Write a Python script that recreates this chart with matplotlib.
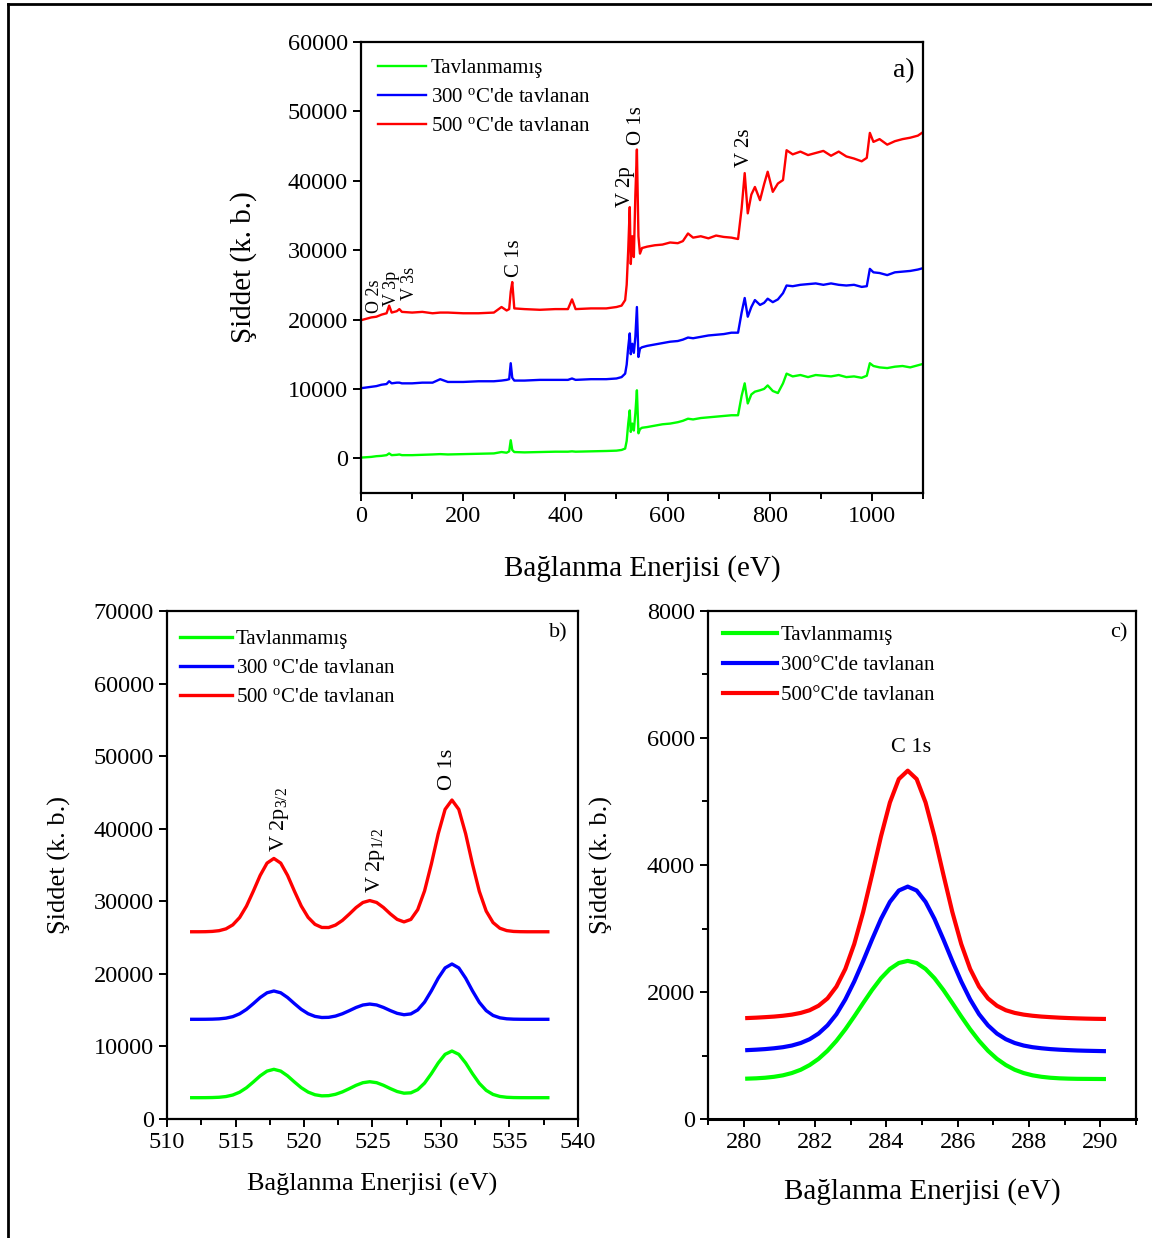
"""XPS spectra of the V-oxide films: survey scan (a), V 2p / O 1s region (b)
and C 1s region (c) for the as-grown and annealed samples."""

import matplotlib

matplotlib.use("Agg")
import matplotlib.pyplot as plt
from matplotlib.lines import Line2D
from matplotlib.ticker import MultipleLocator

plt.rcParams["font.family"] = ["Liberation Serif", "DejaVu Serif"]
plt.rcParams["mathtext.fontset"] = "custom"
plt.rcParams["mathtext.rm"] = "Liberation Serif"
plt.rcParams["mathtext.it"] = "Liberation Serif:italic"

GREEN, BLUE, RED = "#00ff00", "#0000ff", "#ff0000"

# ---- (a) survey spectrum -------------------------------------------------
survey_ev = [
    0, 10, 20, 30, 40, 50, 55, 60, 70, 75, 80, 100, 120, 140, 155, 170, 200,
    230, 260, 275, 285, 290, 293, 296, 300, 320, 350, 380, 405, 413, 420, 450,
    480, 500, 510, 517, 520, 523, 526, 528, 531, 534, 537, 540, 543, 546, 550,
    560, 575, 590, 605, 620, 630, 640, 650, 665, 680, 695, 710, 725, 738, 745,
    751, 757, 764, 771, 781, 789, 796, 806, 816, 826, 833, 845, 860, 875, 890,
    905, 920, 935, 950, 965, 980, 990, 996, 1003, 1015, 1030, 1045, 1060,
    1075, 1090, 1100,
]
survey_raw = [
    100, 150, 200, 300, 350, 450, 700, 450, 500, 550, 450, 450, 500, 550, 600,
    550, 600, 650, 700, 900, 800, 1000, 2600, 1200, 900, 850, 900, 950, 950,
    1000, 950, 1000, 1050, 1100, 1200, 1400, 2500, 5000, 6900, 3800, 5000,
    4000, 6500, 9800, 3600, 4200, 4400, 4500, 4700, 4900, 5000, 5200, 5400,
    5700, 5600, 5800, 5900, 6000, 6100, 6200, 6200, 9000, 10800, 7900, 9200,
    9600, 9800, 10000, 10500, 9700, 9400, 10800, 12200, 11800, 12000, 11700,
    12000, 11900, 11800, 12000, 11700, 11800, 11600, 11900, 13700, 13300,
    13100, 13000, 13200, 13300, 13100, 13400, 13600,
]
survey_300 = [
    10100, 10200, 10300, 10400, 10600, 10700, 11100, 10800, 10900, 10900,
    10800, 10800, 10900, 10900, 11400, 11000, 11000, 11100, 11100, 11200,
    11300, 11400, 13700, 11600, 11200, 11200, 11300, 11300, 11300, 11500,
    11300, 11400, 11400, 11500, 11700, 12200, 13500, 16000, 18000, 15000,
    16500, 15200, 17500, 21800, 14600, 15800, 16000, 16200, 16400, 16600,
    16800, 16900, 17100, 17400, 17300, 17500, 17700, 17800, 17900, 18100,
    18100, 21000, 23100, 20400, 21800, 22800, 22100, 22400, 23000, 22500,
    22900, 23800, 24900, 24800, 25000, 25100, 25200, 25000, 25200, 25000,
    24900, 25000, 24700, 24800, 27300, 26800, 26700, 26400, 26800, 26900,
    27000, 27200, 27400,
]
survey_500 = [
    19900, 20100, 20300, 20400, 20700, 20900, 22000, 21000, 21200, 21500,
    21100, 21000, 21100, 20900, 21000, 21000, 20900, 20900, 21000, 21800,
    21300, 21500, 24000, 25400, 21600, 21500, 21400, 21500, 21500, 22900,
    21500, 21600, 21600, 21800, 22000, 22800, 25000, 30000, 36200, 28000,
    32000, 29000, 38000, 44500, 32000, 29500, 30300, 30500, 30700, 30800,
    31100, 31000, 31300, 32400, 31800, 32000, 31700, 32100, 31900, 31800,
    31600, 36000, 41100, 35300, 38000, 39100, 37200, 39500, 41300, 38400,
    39600, 40100, 44400, 43800, 44200, 43700, 44000, 44300, 43600, 44200,
    43500, 43200, 42800, 43300, 46900, 45600, 46000, 45200, 45700, 46000,
    46200, 46500, 47000,
]
survey_peaks = ["O 2s", "V 3p", "V 3s", "C 1s", "V 2p", "O 1s", "V 2s"]
survey_peak_ev = [26, 60, 94, 300, 518, 540, 750]
survey_peak_top = [21000, 21900, 22800, 26100, 36200, 45200, 42000]
survey_peak_size = [13, 13, 13, 15, 15, 15, 15]

# ---- (b) V 2p / O 1s region ----------------------------------------------
v2p_ev = [
    511.8, 512.3, 512.8, 513.3, 513.8, 514.3, 514.8, 515.3, 515.8, 516.3,
    516.8, 517.3, 517.8, 518.3, 518.8, 519.3, 519.8, 520.3, 520.8, 521.3,
    521.8, 522.3, 522.8, 523.3, 523.8, 524.3, 524.8, 525.3, 525.8, 526.3,
    526.8, 527.3, 527.8, 528.3, 528.8, 529.3, 529.8, 530.3, 530.8, 531.3,
    531.8, 532.3, 532.8, 533.3, 533.8, 534.3, 534.8, 535.3, 535.8, 536.3,
    536.8, 537.3, 537.8,
]
v2p_raw = [
    2940, 2940, 2945, 2960, 2999, 3097, 3308, 3699, 4309, 5106, 5947, 6602,
    6850, 6602, 5947, 5106, 4313, 3712, 3345, 3194, 3221, 3406, 3737, 4179,
    4645, 5004, 5140, 5008, 4649, 4195, 3789, 3559, 3611, 4047, 4945, 6258,
    7728, 8913, 9370, 8913, 7724, 6245, 4908, 3950, 3389, 3112, 2997, 2956,
    2944, 2940, 2940, 2940, 2940,
]
v2p_300 = [
    13740, 13740, 13745, 13760, 13800, 13900, 14107, 14497, 15105, 15901,
    16739, 17392, 17640, 17392, 16739, 15901, 15109, 14509, 14142, 13988,
    14010, 14185, 14501, 14922, 15368, 15710, 15840, 15715, 15373, 14941,
    14563, 14369, 14483, 15028, 16107, 17669, 19413, 20819, 21360, 20819,
    19409, 17657, 16072, 14936, 14272, 13943, 13807, 13759, 13745, 13740,
    13740, 13740, 13740,
]
v2p_500 = [
    25800, 25800, 25810, 25850, 25950, 26200, 26750, 27760, 29335, 31395,
    33567, 35259, 35900, 35259, 33567, 31397, 29342, 27784, 26824, 26394,
    26385, 26722, 27362, 28224, 29133, 29833, 30100, 29835, 29144, 28266,
    27508, 27158, 27500, 28839, 31427, 35154, 39311, 42663, 43950, 42661,
    39304, 35129, 31354, 28650, 27067, 26285, 25960, 25845, 25811, 25800,
    25800, 25800, 25800,
]
v2p_labels = [r"V 2p$_{3/2}$", r"V 2p$_{1/2}$", "O 1s"]
v2p_label_ev = [518.2, 525.2, 530.5]
v2p_label_top = [36800, 31150, 45300]

# ---- (c) C 1s region ------------------------------------------------------
c1s_ev = [
    280.10, 280.35, 280.60, 280.85, 281.10, 281.35, 281.60, 281.85, 282.10,
    282.35, 282.60, 282.85, 283.10, 283.35, 283.60, 283.85, 284.10, 284.35,
    284.60, 284.85, 285.10, 285.35, 285.60, 285.85, 286.10, 286.35, 286.60,
    286.85, 287.10, 287.35, 287.60, 287.85, 288.10, 288.35, 288.60, 288.85,
    289.10, 289.35, 289.60, 289.85, 290.10,
]
c1s_raw = [
    636, 641, 650, 665, 688, 724, 776, 850, 948, 1075, 1231, 1413, 1615, 1826,
    2032, 2217, 2363, 2457, 2490, 2457, 2363, 2217, 2032, 1826, 1615, 1413,
    1231, 1075, 948, 850, 776, 724, 688, 665, 650, 641, 636, 633, 632, 631,
    630,
]
c1s_300 = [
    1085, 1092, 1101, 1114, 1131, 1157, 1197, 1257, 1346, 1475, 1650, 1883,
    2166, 2488, 2828, 3151, 3419, 3598, 3660, 3598, 3419, 3151, 2828, 2488,
    2166, 1883, 1650, 1475, 1346, 1257, 1197, 1157, 1131, 1114, 1101, 1092,
    1085, 1079, 1075, 1072, 1069,
]
c1s_500 = [
    1590, 1596, 1604, 1613, 1626, 1644, 1671, 1713, 1784, 1899, 2085, 2363,
    2756, 3260, 3847, 4451, 4984, 5353, 5485, 5353, 4984, 4451, 3847, 3260,
    2756, 2363, 2085, 1899, 1784, 1713, 1671, 1644, 1626, 1613, 1604, 1596,
    1590, 1585, 1581, 1578, 1576,
]

LABELS_AB = ["Tavlanmamış", r"300 $^{\rm o}$C'de tavlanan", r"500 $^{\rm o}$C'de tavlanan"]
LABELS_C = ["Tavlanmamış", "300°C'de tavlanan", "500°C'de tavlanan"]
XLABEL = "Bağlanma Enerjisi (eV)"
YLABEL = "Şiddet (k. b.)"


def style_axes(ax):
    for sp in ax.spines.values():
        sp.set_linewidth(1.6)
    ax.tick_params(which="both", direction="out", top=False, right=False, width=1.4)
    ax.tick_params(which="major", length=6, labelsize=17.5)
    ax.tick_params(which="minor", length=4)


fig = plt.figure(figsize=(11.52, 12.38), dpi=100)

# panel a
ax_a = fig.add_axes([0.3134, 0.6018, 0.4878, 0.3643])
ax_a.plot(survey_ev, survey_raw, color=GREEN, lw=1.7, label=LABELS_AB[0])
ax_a.plot(survey_ev, survey_300, color=BLUE, lw=1.7, label=LABELS_AB[1])
ax_a.plot(survey_ev, survey_500, color=RED, lw=1.7, label=LABELS_AB[2])
for name, ev, top, fs in zip(survey_peaks, survey_peak_ev, survey_peak_top,
                             survey_peak_size):
    ax_a.text(ev, top, name, rotation=90, ha="center", va="bottom", fontsize=fs)
ax_a.set_xlim(0, 1100)
ax_a.set_ylim(-5000, 60000)
ax_a.xaxis.set_major_locator(MultipleLocator(200))
ax_a.xaxis.set_minor_locator(MultipleLocator(100))
ax_a.yaxis.set_major_locator(MultipleLocator(10000))
style_axes(ax_a)
ax_a.set_xlabel(XLABEL, fontsize=21, labelpad=20)
ax_a.set_ylabel(YLABEL, fontsize=21, labelpad=22)
ax_a.text(0.985, 0.965, "a)", transform=ax_a.transAxes, ha="right", va="top", fontsize=20)
ax_a.legend(loc="upper left", frameon=False, fontsize=15, handlelength=2.3,
            handletextpad=0.25, labelspacing=0.45, borderaxespad=0.4)

# panel b
ax_b = fig.add_axes([0.145, 0.0961, 0.3567, 0.4104])
ax_b.plot(v2p_ev, v2p_raw, color=GREEN, lw=2.4, label=LABELS_AB[0])
ax_b.plot(v2p_ev, v2p_300, color=BLUE, lw=2.4, label=LABELS_AB[1])
ax_b.plot(v2p_ev, v2p_500, color=RED, lw=2.4, label=LABELS_AB[2])
for name, ev, top in zip(v2p_labels, v2p_label_ev, v2p_label_top):
    ax_b.text(ev, top, name, rotation=90, ha="center", va="bottom", fontsize=16)
ax_b.set_xlim(510, 540)
ax_b.set_ylim(0, 70000)
ax_b.xaxis.set_major_locator(MultipleLocator(5))
ax_b.xaxis.set_minor_locator(MultipleLocator(2.5))
ax_b.yaxis.set_major_locator(MultipleLocator(10000))
style_axes(ax_b)
ax_b.set_xlabel(XLABEL, fontsize=19, labelpad=14)
ax_b.set_ylabel(YLABEL, fontsize=19, labelpad=16)
ax_b.text(0.975, 0.975, "b)", transform=ax_b.transAxes, ha="right", va="top", fontsize=16)
ax_b.legend(loc="upper left", bbox_to_anchor=(-0.015, 1.0), frameon=False,
            fontsize=15, handlelength=2.5, handletextpad=0.2, labelspacing=0.45,
            borderaxespad=0.5)

# panel c
ax_c = fig.add_axes([0.6146, 0.0961, 0.3715, 0.4104])
ax_c.plot(c1s_ev, c1s_raw, color=GREEN, lw=3, label=LABELS_C[0])
ax_c.plot(c1s_ev, c1s_300, color=BLUE, lw=3, label=LABELS_C[1])
ax_c.plot(c1s_ev, c1s_500, color=RED, lw=3, label=LABELS_C[2])
ax_c.text(284.7, 5700, "C 1s", ha="center", va="bottom", fontsize=16)
ax_c.set_xlim(279, 291)
ax_c.set_ylim(0, 8000)
ax_c.xaxis.set_major_locator(MultipleLocator(2))
ax_c.xaxis.set_minor_locator(MultipleLocator(1))
ax_c.yaxis.set_major_locator(MultipleLocator(2000))
ax_c.yaxis.set_minor_locator(MultipleLocator(1000))
style_axes(ax_c)
ax_c.spines["bottom"].set_linewidth(2.2)
ax_c.set_xlabel(XLABEL, fontsize=21, labelpad=18)
ax_c.set_ylabel(YLABEL, fontsize=19, labelpad=24)
ax_c.text(0.98, 0.975, "c)", transform=ax_c.transAxes, ha="right", va="top", fontsize=16)
ax_c.legend(loc="upper left", frameon=False, fontsize=15, handlelength=2.6,
            handletextpad=0.2, labelspacing=0.5, borderaxespad=0.3)

# page frame (left and top rules)
fig.add_artist(Line2D([0.0069, 0.0069], [0.0, 0.9965], color="black", lw=2))
fig.add_artist(Line2D([0.0069, 1.0], [0.9965, 0.9965], color="black", lw=2))

fig.savefig("out.png", dpi=100)
